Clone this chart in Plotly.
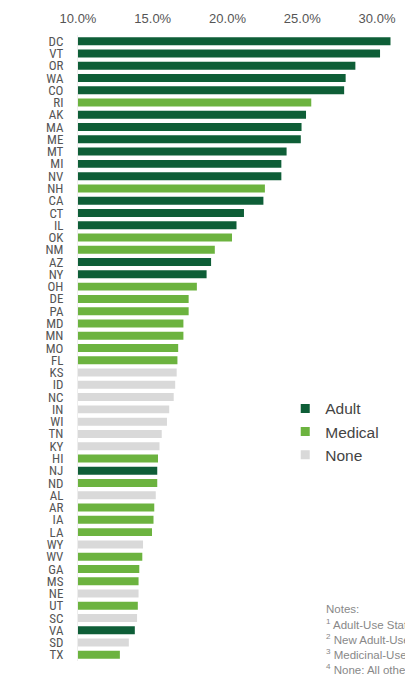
import plotly.graph_objects as go

states = ["DC","VT","OR","WA","CO","RI","AK","MA","ME","MT","MI","NV","NH","CA","CT","IL","OK","NM","AZ","NY",
          "OH","DE","PA","MD","MN","MO","FL","KS","ID","NC","IN","WI","TN","KY","HI","NJ","ND","AL","AR","IA",
          "LA","WY","WV","GA","MS","NE","UT","SC","VA","SD","TX"]
values = [30.9,30.2,28.55,27.9,27.8,25.6,25.25,24.95,24.9,23.95,23.6,23.6,22.5,22.4,21.1,20.6,20.3,19.15,18.9,18.6,
          17.95,17.4,17.4,17.05,17.05,16.7,16.65,16.6,16.5,16.4,16.1,15.95,15.6,15.45,15.35,15.3,15.3,15.2,15.1,15.05,
          14.95,14.35,14.3,14.1,14.05,14.05,14.0,13.95,13.8,13.4,12.8]
status = ["Adult","Adult","Adult","Adult","Adult","Medical","Adult","Adult","Adult","Adult","Adult","Adult","Medical","Adult","Adult","Adult","Medical","Medical","Adult","Adult",
          "Medical","Medical","Medical","Medical","Medical","Medical","Medical","None","None","None","None","None","None","None","Medical","Adult","Medical","None","Medical","Medical",
          "Medical","None","Medical","Medical","Medical","None","Medical","None","Adult","None","Medical"]
groups = ["Adult", "Medical", "None"]
colors = {"Adult": "#0e5e37", "Medical": "#6cb33f", "None": "#d9d9d9"}
xticks = [10, 15, 20, 25, 30]
notes = ["Notes:",
         "<sup>1</sup> Adult-Use States: legal adult-use cannabis",
         "<sup>2</sup> New Adult-Use States",
         "<sup>3</sup> Medicinal-Use States",
         "<sup>4</sup> None: All other states"]

fig = go.Figure()
for g in groups:
    xs = [v for v, s in zip(values, status) if s == g]
    ys = [st for st, s in zip(states, status) if s == g]
    fig.add_trace(go.Bar(x=xs, y=ys, orientation="h", marker=dict(color=colors[g], line=dict(width=0)),
                         showlegend=False, base=0))
for g in groups:
    fig.add_trace(go.Scatter(x=[None], y=[None], mode="markers", name=g,
                             marker=dict(symbol="square", size=9, color=colors[g])))

fig.update_layout(
    width=405, height=674,
    margin=dict(l=78, r=9, t=35, b=13),
    paper_bgcolor="white", plot_bgcolor="white",
    bargap=0.35, barmode="overlay",
    font=dict(family="Arial, Liberation Sans, sans-serif", color="#555555"),
    legend=dict(x=0.66, y=0.43, xanchor="left", yanchor="top",
                font=dict(size=15.5, color="#444444"), bgcolor="rgba(0,0,0,0)",
                itemwidth=30),
    xaxis=dict(side="top", range=[10, 31], tickvals=xticks,
               ticktext=[f"{t:.1f}%" for t in xticks], showgrid=False, zeroline=False,
               showline=False, ticks="", tickfont=dict(size=13, color="#555555"),
               ticklabelstandoff=8),
    yaxis=dict(categoryorder="array", categoryarray=states, autorange="reversed",
               tickmode="array", tickvals=states, ticktext=states,
               showgrid=False, zeroline=False, showline=True, linecolor="#eeeeee", linewidth=1,
               ticks="", tickfont=dict(family="Liberation Sans Narrow, Roboto Condensed, Arial Narrow, Arial",
                                       size=13, color="#555555"), ticklabelstandoff=11),
)

ys_px = [609, 624, 639, 654, 669]
for txt, ypx in zip(notes, ys_px):
    fig.add_annotation(text=txt, xref="paper", yref="paper", x=(327 - 78) / 318, y=(661 - ypx) / 626,
                       xanchor="left", yanchor="middle", showarrow=False, align="left",
                       font=dict(size=11.5, color="#888888"))

fig.write_html("out.html")
